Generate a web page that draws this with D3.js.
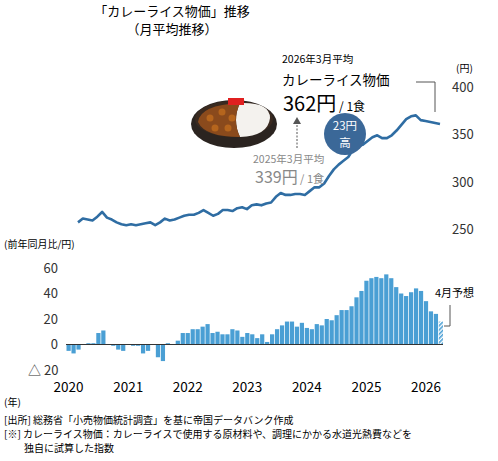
<!DOCTYPE html><html><head><meta charset="utf-8"><script src="https://cdn.jsdelivr.net/npm/d3@7"></script>
<style>body{margin:0;background:#fff}text{font-family:"Noto Sans CJK JP","Noto Sans",sans-serif}</style></head><body>
<svg id="c" width="498" height="461"></svg>
<script>
const years=["2020","2021","2022","2023","2024","2025","2026"];
const yoy=[-5,-7,-4,0,1,1,9,11,0,-1,-4,-5,
 0,-1,-1,-7,-5,0,-10,-13,1,0,3,9,
 9,12,12,14,16,9,10,8,8,12,11,6,
 9,8,5,8,2,8,12,15,18,18,14,17,
 13,12,16,15,20,19,23,27,27,30,37,42,
 50,52,53,52,55,52,45,40,38,41,44,42,
 34,26,24,18];
const price=[257,261,260,259,263,268,262,260,257,255,254,255,254,255,256,257,254,257,261,259,260,262,264,265,265,267,270,267,264,266,270,270,269,272,273,271,275,276,275,277,278,284,288,286,286,287,287,286,290,294,294,298,306,313,318,322,326,334,338,339,343,347,349,346,346,349,354,360,366,369,370,365,364,363,362,361];
const priceTicks=[250,300,350,400], yoyTicks=[60,40,20,0,-20];
const svg=d3.select("#c");
const defs=svg.append("defs");
const pat=defs.append("pattern").attr("id","h").attr("width",3).attr("height",3).attr("patternUnits","userSpaceOnUse").attr("patternTransform","rotate(45)");
pat.append("rect").attr("width",3).attr("height",3).attr("fill","#fff");
pat.append("rect").attr("width",1.6).attr("height",3).attr("fill","#4a9fd4");
svg.append("text").attr("x",172).attr("y",16).attr("text-anchor","middle").attr("font-size",13).text("「カレーライス物価」推移");
svg.append("text").attr("x",172).attr("y",34).attr("text-anchor","middle").attr("font-size",13).text("（月平均推移）");
const xL=d3.scaleLinear().domain([0,price.length-1]).range([78,440]);
const yL=d3.scaleLinear().domain([250,400]).range([229,87]);
svg.append("path").datum(price).attr("fill","none").attr("stroke","#2f6da3").attr("stroke-width",2.6).attr("stroke-linejoin","round")
 .attr("d",d3.line().x((d,i)=>xL(i)).y(d=>yL(d)));
const ga=svg.append("g").attr("transform","translate(452,0)").call(d3.axisRight(yL).tickValues(priceTicks).tickSize(0).tickPadding(0));
ga.select(".domain").remove();ga.selectAll("text").attr("font-size",13).attr("fill","#333").attr("dy","0.35em").attr("font-family","Noto Sans");
svg.append("text").attr("x",456).attr("y",72).attr("font-size",10).text("(円)");
svg.append("path").attr("d","M416,82H435V112").attr("fill","none").attr("stroke","#555");
svg.append("text").attr("x",282).attr("y",63).attr("font-size",10.5).text("2026年3月平均");
svg.append("text").attr("x",282).attr("y",85).attr("font-size",13.5).text("カレーライス物価");
const t1=svg.append("text").attr("x",283).attr("y",111);
t1.append("tspan").attr("font-size",20).text("362円");t1.append("tspan").attr("font-size",12).text(" / 1食");
svg.append("line").attr("x1",297).attr("x2",297).attr("y1",148).attr("y2",122).attr("stroke","#555").attr("stroke-dasharray","2,1.5");
svg.append("path").attr("d","M293,124L297,117L301,124Z").attr("fill","#555");
svg.append("text").attr("x",253).attr("y",163).attr("font-size",10.5).attr("fill","#888").text("2025年3月平均");
const t2=svg.append("text").attr("x",255).attr("y",183).attr("fill","#888");
t2.append("tspan").attr("font-size",16).text("339円");t2.append("tspan").attr("font-size",11).text(" / 1食");
svg.append("circle").attr("cx",345).attr("cy",134).attr("r",21).attr("fill","#3b6898");
svg.append("text").attr("x",345).attr("y",130).attr("text-anchor","middle").attr("fill","#fff").attr("font-size",11.5).text("23円");
svg.append("text").attr("x",345).attr("y",147).attr("text-anchor","middle").attr("fill","#fff").attr("font-size",11.5).text("高");
const cg=svg.append("g");
cg.append("ellipse").attr("cx",234).attr("cy",124).attr("rx",43).attr("ry",24).attr("fill","#2b2420");
cg.append("ellipse").attr("cx",234).attr("cy",119).attr("rx",39).attr("ry",18).attr("fill","#3a2a20");
cg.append("path").attr("d","M240,103 Q270,102 270,118 Q268,136 240,137 Q232,120 240,103Z").attr("fill","#f4f2ee");
cg.append("path").attr("d","M240,103 Q232,120 240,137 Q205,137 198,122 Q200,105 240,103Z").attr("fill","#8a4a1c");
[[210,118],[222,112],[228,128],[215,128],[232,118]].forEach(p=>cg.append("circle").attr("cx",p[0]).attr("cy",p[1]).attr("r",3.5).attr("fill","#b5651d"));
cg.append("rect").attr("x",228).attr("y",98).attr("width",16).attr("height",7).attr("fill","#e02020");
const xB=d3.scaleBand().domain(yoy.map((d,i)=>i)).range([66.5,443]).paddingInner(0.15);
const yB=d3.scaleLinear().domain([-20,60]).range([370,268]);
svg.append("g").selectAll("rect").data(yoy).join("rect")
 .attr("x",(d,i)=>xB(i)).attr("width",xB.bandwidth())
 .attr("y",d=>yB(Math.max(0,d))).attr("height",d=>Math.abs(yB(d)-yB(0)))
 .attr("fill",(d,i)=>i==yoy.length-1?"url(#h)":"#4a9fd4");
svg.append("line").attr("x1",66).attr("x2",443).attr("y1",yB(0)).attr("y2",yB(0)).attr("stroke","#333");
const yt=svg.append("g");
yoyTicks.forEach(d=>{
  yt.append("text").attr("x",d<0?28:58).attr("y",yB(d)+4.5).attr("text-anchor",d<0?"start":"end")
   .attr("font-size",13).attr("fill","#333").text(d<0?"△ "+(-d):String(d));
});
years.forEach((y,k)=>svg.append("text").attr("x",xB(k*12)+xB.bandwidth()/2).attr("y",392).attr("text-anchor","middle").attr("font-size",13.5).attr("font-family","Noto Sans").text(y));
svg.append("text").attr("x",4).attr("y",248).attr("font-size",10).text("(前年同月比/円)");
svg.append("text").attr("x",4).attr("y",406).attr("font-size",10).text("(年)");
svg.append("text").attr("x",435).attr("y",297).attr("font-size",11).text("4月予想");
svg.append("path").attr("d","M450,305V326H444").attr("fill","none").attr("stroke","#555");
svg.append("text").attr("x",4).attr("y",424).attr("font-size",10).text("[出所] 総務省「小売物価統計調査」を基に帝国データバンク作成");
svg.append("text").attr("x",4).attr("y",438).attr("font-size",10).text("[※] カレーライス物価：カレーライスで使用する原材料や、調理にかかる水道光熱費などを");
svg.append("text").attr("x",24).attr("y",452).attr("font-size",10).text("独自に試算した指数");
</script></body></html>
